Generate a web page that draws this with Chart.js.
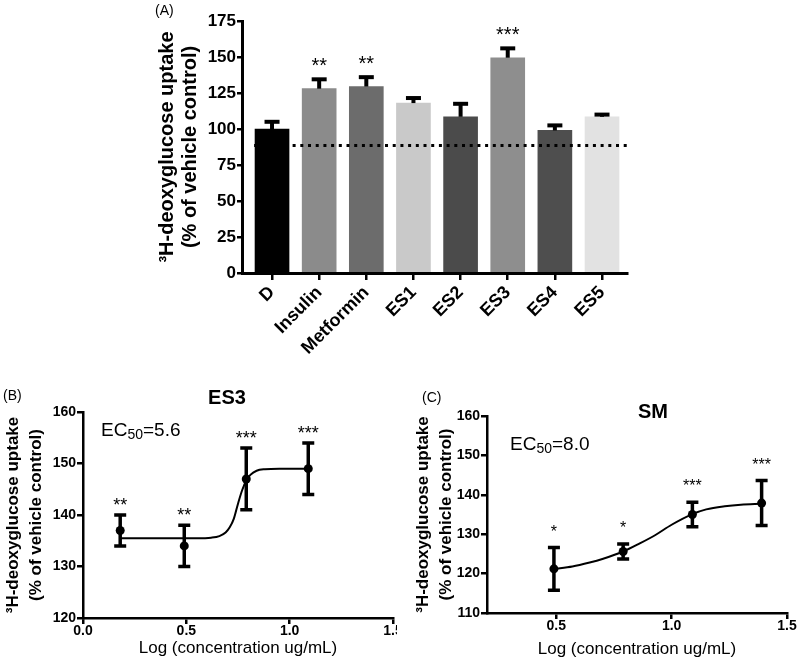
<!DOCTYPE html>
<html>
<head>
<meta charset="utf-8">
<script src="https://cdn.jsdelivr.net/npm/chart.js@4.4.1/dist/chart.umd.min.js"></script>
<style>
body{margin:0;background:#fff;width:800px;height:666px;position:relative;overflow:hidden}
canvas{position:absolute;background:#fff}
#chartA{left:0;top:0}
#chartB{left:0;top:380px}
#chartC{left:397px;top:380px}
</style>
</head>
<body>
<canvas id="chartA" width="800" height="380"></canvas>
<canvas id="chartB" width="420" height="286"></canvas>
<canvas id="chartC" width="403" height="286"></canvas>
<script>
// (A) uptake per treatment
const groups=['D','Insulin','Metformin','ES1','ES2','ES3','ES4','ES5'];
const uptake=[100,128,129.5,118,108.5,149.5,99,108.5];
const uptakeErr=[5,6.5,6.5,3.5,9,6.5,3.5,1.5];
const uptakeStars=['','**','**','','','***','',''];
const barColors=['#000000','#8b8b8b','#6c6c6c','#c9c9c9','#4b4b4b','#8e8e8e','#4e4e4e','#e2e2e2'];
const vehicleLevel=88.5;
const vehicleSpan=[-0.38,7.6];

// (B) ES3 dose response
const es3Log=[0.18,0.49,0.79,1.09];
const es3Mean=[137,134,147,149];
const es3Err=[3,4,6,5];
const es3Stars=['**','**','***','***'];
const es3FitX=[0.18,0.55,0.62,0.66,0.69,0.71,0.73,0.75,0.77,0.79,0.81,0.84,0.88,0.95,1.09];
const es3FitY=[135.5,135.5,135.6,135.9,136.6,137.6,139.3,142.2,144.8,146.7,147.8,148.6,148.9,149,149];

// (C) SM dose response
const smLog=[0.49,0.79,1.09,1.39];
const smMean=[121.2,125.6,135,137.9];
const smErr=[5.4,1.9,3.1,5.7];
const smStars=['*','*','***','***'];
const smFitX=[0.49,0.57,0.645,0.7,0.79,0.86,0.93,1.0,1.09,1.15,1.23,1.3,1.39];
const smFitY=[121.2,121.8,122.8,123.7,125.6,127.6,129.8,132.4,135.1,136.3,137.1,137.5,137.7];

const FONT="'Liberation Sans', Arial, sans-serif";
Chart.defaults.font.family=FONT;
Chart.defaults.color='#000';
Chart.defaults.animation=false;

/* barras de error + asteriscos */
const errorBars={
  id:'errorBars',
  afterDatasetsDraw(c,args,o){
    const ds=c.data.datasets[o.dataset],meta=c.getDatasetMeta(o.dataset),ys=c.scales.y,ctx=c.ctx;
    ctx.save();
    ctx.strokeStyle='#000';ctx.fillStyle='#000';
    meta.data.forEach((el,i)=>{
      const v=ds.data[i].y;
      const hi=ys.getPixelForValue(v+o.err[i]);
      const lo=ys.getPixelForValue(o.upperOnly?v:v-o.err[i]);
      const x=el.x,w=o.cap/2;
      ctx.lineWidth=o.stem;
      ctx.beginPath();ctx.moveTo(x,lo);ctx.lineTo(x,hi);ctx.stroke();
      ctx.lineWidth=o.capT;
      ctx.beginPath();ctx.moveTo(x-w,hi);ctx.lineTo(x+w,hi);
      if(!o.upperOnly){ctx.moveTo(x-w,lo);ctx.lineTo(x+w,lo);}
      ctx.stroke();
      if(o.stars[i]){
        ctx.font=o.starFont;ctx.textAlign='center';ctx.textBaseline='alphabetic';
        ctx.fillText(o.stars[i],x,hi-o.starGap);
      }
    });
    ctx.restore();
  }
};

/* textos sueltos */
const notes={
  id:'notes',
  afterDraw(c,args,o){
    const ctx=c.ctx;
    ctx.save();ctx.fillStyle='#000';ctx.textBaseline='alphabetic';
    (o.items||[]).forEach(t=>{ctx.font=t.font;ctx.textAlign=t.align||'left';ctx.fillText(t.text,t.x,t.y);});
    if(o.ec){
      let {x,y,val,size}=o.ec;
      ctx.textAlign='left';
      ctx.font=size+'px '+FONT;ctx.fillText('EC',x,y);x+=ctx.measureText('EC').width;
      ctx.font=Math.round(size*0.74)+'px '+FONT;ctx.fillText('50',x,y+3);x+=ctx.measureText('50').width;
      ctx.font=size+'px '+FONT;ctx.fillText('='+val,x,y);
    }
    ctx.restore();
  }
};

const yTitle=(pad,size,lh)=>({display:true,text:['³H-deoxyglucose uptake','(% of vehicle control)'],font:{size,weight:'bold',lineHeight:lh},padding:{top:pad,bottom:0}});

new Chart(document.getElementById('chartA'),{
  type:'bar',
  data:{datasets:[
    {type:'line',data:vehicleSpan.map(x=>({x,y:vehicleLevel})),borderColor:'#000',borderWidth:3,borderDash:[3,4.7],pointRadius:0,clip:false,order:0},
    {type:'bar',data:uptake.map((y,i)=>({x:i,y})),backgroundColor:barColors,barThickness:34,order:1}
  ]},
  options:{
    responsive:false,
    layout:{padding:{left:150,top:21,right:173,bottom:0}},
    plugins:{
      legend:{display:false},tooltip:{enabled:false},
      errorBars:{dataset:1,err:uptakeErr,upperOnly:true,stem:4,cap:15,capT:4,stars:uptakeStars,starFont:'20px '+FONT,starGap:7},
      notes:{items:[{text:'(A)',x:155,y:15,font:'14px '+FONT}]}
    },
    scales:{
      x:{type:'linear',min:-0.637,max:7.53,offset:false,z:1,
        afterFit:s=>{s.height=107;},
        border:{color:'#000',width:3},
        grid:{drawOnChartArea:false,offset:false,color:'#000',lineWidth:2.5,tickLength:7},
        ticks:{stepSize:1,includeBounds:false,autoSkip:false,minRotation:45,maxRotation:45,padding:2,
          font:{size:18,weight:'bold'},callback:v=>groups[v]??''}},
      y:{min:0,max:175,z:1,
        afterFit:s=>{s.width=92;},
        border:{color:'#000',width:3},
        grid:{drawOnChartArea:false,color:'#000',lineWidth:2.5,tickLength:5},
        ticks:{stepSize:25,padding:1,font:{size:17,weight:'bold'}},
        title:yTitle(5.5,20,1.15)}
    }
  },
  plugins:[errorBars,notes]
});

function doseChart(id,p){
  return new Chart(document.getElementById(id),{
    type:'scatter',
    data:{datasets:[
      {type:'line',data:p.fitX.map((x,i)=>({x,y:p.fitY[i]})),borderColor:'#000',borderWidth:2,pointRadius:0,cubicInterpolationMode:'monotone',order:1},
      {type:'scatter',data:p.xs.map((x,i)=>({x,y:p.ys[i]})),backgroundColor:'#000',borderWidth:0,pointRadius:4.5,order:0}
    ]},
    options:{
      responsive:false,
      layout:{padding:p.pad},
      plugins:{
        legend:{display:false},tooltip:{enabled:false},
        errorBars:{dataset:1,err:p.err,upperOnly:false,stem:3.5,cap:12,capT:3.5,stars:p.stars,starFont:p.starFont,starGap:p.starGap},
        notes:{items:p.items,ec:p.ec}
      },
      scales:{
        x:{type:'linear',min:p.xMin,max:1.5,z:1,
          afterFit:s=>{s.height=p.xH;},
          border:{color:'#000',width:2.5},
          grid:{drawOnChartArea:false,color:'#000',lineWidth:2.5,tickLength:6},
          ticks:{stepSize:0.5,includeBounds:false,padding:-1,font:{size:14,weight:'bold'},callback:v=>v.toFixed(1)},
          title:{display:true,text:'Log (concentration ug/mL)',font:{size:17},padding:{top:0,bottom:p.xTitlePad}}},
        y:{min:p.yMin,max:160,z:1,
          afterFit:s=>{s.width=p.yW;},
          border:{color:'#000',width:2.5},
          grid:{drawOnChartArea:false,color:'#000',lineWidth:2.5,tickLength:6},
          ticks:{stepSize:10,padding:1,font:{size:14,weight:'bold'}},
          title:yTitle(p.yTitlePad,17,1.35)}
      }
    },
    plugins:[errorBars,notes]
  });
}

doseChart('chartB',{
  xs:es3Log,ys:es3Mean,err:es3Err,stars:es3Stars,fitX:es3FitX,fitY:es3FitY,
  xMin:0,yMin:120,pad:{left:0,top:32,right:27,bottom:0},xH:48,yW:83,xTitlePad:7,yTitlePad:2,
  starFont:'18px '+FONT,starGap:4,
  items:[{text:'(B)',x:3,y:20,font:'14px '+FONT},{text:'ES3',x:227,y:24,font:'bold 20px '+FONT,align:'center'}],
  ec:{x:101,y:56,val:'5.6',size:19}
});

doseChart('chartC',{
  xs:smLog,ys:smMean,err:smErr,stars:smStars,fitX:smFitX,fitY:smFitY,
  xMin:0.2,yMin:110,pad:{left:0,top:36,right:13,bottom:0},xH:53,yW:90,xTitlePad:6,yTitlePad:14.5,
  starFont:'16px '+FONT,starGap:11,
  items:[{text:'(C)',x:25,y:22,font:'14px '+FONT},{text:'SM',x:256,y:38,font:'bold 20px '+FONT,align:'center'}],
  ec:{x:113,y:70,val:'8.0',size:19}
});
</script>
</body>
</html>
